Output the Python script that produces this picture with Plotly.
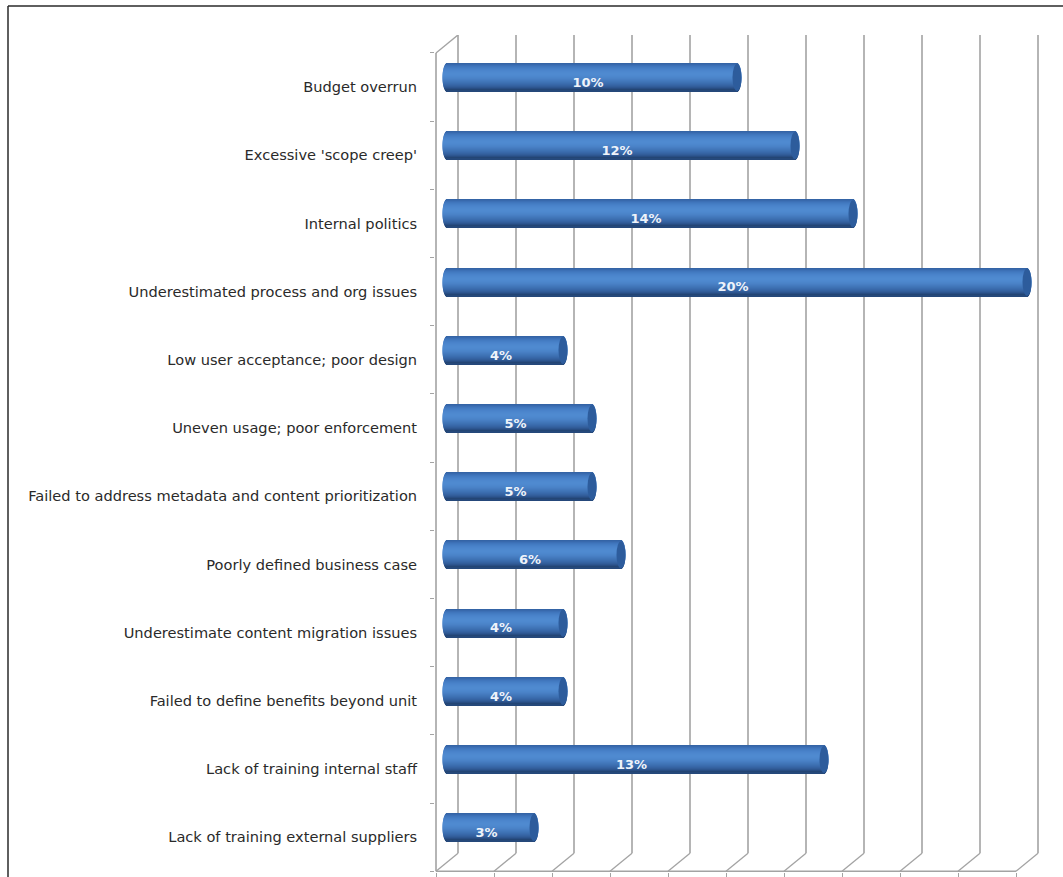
import math
import plotly.graph_objects as go

categories = [
    "Budget overrun",
    "Excessive 'scope creep'",
    "Internal politics",
    "Underestimated process and org issues",
    "Low user acceptance; poor design",
    "Uneven usage; poor enforcement",
    "Failed to address metadata and content prioritization",
    "Poorly defined business case",
    "Underestimate content migration issues",
    "Failed to define benefits beyond unit",
    "Lack of training internal staff",
    "Lack of training external suppliers",
]
values = [10, 12, 14, 20, 4, 5, 5, 6, 4, 4, 13, 3]

# Page geometry (pixels)
W, H = 1063, 877
PLOT_L, PLOT_T, PLOT_B = 435, 35, 872
PX_PER_PCT = 29.0
ZERO_PX = 447.0
ROW_PX = 68.2
FIRST_ROW_PX = 87.0

x_range = [(PLOT_L - ZERO_PX) / PX_PER_PCT, (W - ZERO_PX) / PX_PER_PCT]
y_range = [(PLOT_B - FIRST_ROW_PX) / ROW_PX, (PLOT_T - FIRST_ROW_PX) / ROW_PX]

# Pseudo-3D depth: bars sit halfway between front axis and back wall
DEPTH_X = 11.0 / PX_PER_PCT
BAR_SHIFT = 9.5 / ROW_PX
BAR_HALF = 14.0 / ROW_PX
CAP_A = 4.5 / PX_PER_PCT
positions = list(range(len(categories)))

# Vertical shading of the cylinder, top to bottom
shade = [
    "#3464a6", "#3869ad", "#3c70b6", "#4076bd", "#437bc2", "#467fc6", "#4982ca",
    "#4b85cc", "#4d87ce", "#4e89cf", "#4f8ad0", "#4f8ad0", "#4e89cf", "#4d87cd",
    "#4b85ca", "#4a82c7", "#477ec3", "#447abe", "#4176b9", "#3e72b4", "#3b6daf",
    "#3868a9", "#3563a2", "#325d9a", "#2d5690", "#284d83", "#234574", "#25487a",
]

fig = go.Figure()

n = len(shade)
band = 2 * BAR_HALF / n
for k, color in enumerate(shade):
    # Each band is trimmed by the end-cap ellipse so the ends come out round
    t = (k + 0.5) / n * 2 - 1
    ext = CAP_A * math.sqrt(max(0.0, 1 - t * t))
    fig.add_trace(go.Bar(
        orientation="h",
        y=[p - BAR_SHIFT for p in positions],
        x=[v + 2 * ext for v in values],
        base=[-ext] * len(values),
        width=band * 1.15,
        offset=-BAR_HALF + k * band,
        marker=dict(color=color, line=dict(width=0)),
        showlegend=False,
        hoverinfo="skip",
    ))

# Value labels, sitting slightly under the bar's centre line
fig.add_trace(go.Scatter(
    x=[v / 2 - 0.14 for v in values],
    y=[p - BAR_SHIFT + 6.0 / ROW_PX for p in positions],
    mode="text",
    text=[f"{v}%" for v in values],
    textfont=dict(family="DejaVu Sans", size=13, color="#eef3fa", weight="bold"),
    showlegend=False,
    hoverinfo="skip",
))

shapes = []
grid_color = "#a3a3a3"
top_row, bottom_row = -0.5, len(categories) - 0.5
wall_top = top_row - 18.0 / ROW_PX
wall_bottom = bottom_row - 18.0 / ROW_PX
floor_ticks = list(range(0, 21, 2))

for g in floor_ticks:
    front = g - DEPTH_X
    back = g + DEPTH_X
    # back-wall vertical
    shapes.append(dict(type="line", layer="below", xref="x", yref="y",
                       x0=back, x1=back, y0=wall_top, y1=wall_bottom,
                       line=dict(color=grid_color, width=1.6)))
    # floor diagonal
    shapes.append(dict(type="line", layer="below", xref="x", yref="y",
                       x0=front, x1=back, y0=bottom_row, y1=wall_bottom,
                       line=dict(color=grid_color, width=1.3)))

# Side wall: front axis, and the diagonal at its top
axis_x = -DEPTH_X
shapes.append(dict(type="line", layer="below", xref="x", yref="y",
                   x0=axis_x, x1=axis_x, y0=top_row, y1=bottom_row,
                   line=dict(color=grid_color, width=1.6)))
shapes.append(dict(type="line", layer="below", xref="x", yref="y",
                   x0=axis_x, x1=DEPTH_X, y0=top_row, y1=wall_top,
                   line=dict(color=grid_color, width=1.3)))
# Floor front edge
shapes.append(dict(type="line", layer="below", xref="x", yref="y",
                   x0=axis_x, x1=floor_ticks[-1] - DEPTH_X, y0=bottom_row, y1=bottom_row,
                   line=dict(color=grid_color, width=1.6)))

# Dark end face of each cylinder
for p, v in zip(positions, values):
    shapes.append(dict(type="circle", layer="above", xref="x", yref="y",
                       x0=v - CAP_A, x1=v + CAP_A,
                       y0=p - BAR_SHIFT - BAR_HALF * 0.97, y1=p - BAR_SHIFT + BAR_HALF * 0.97,
                       fillcolor="#2d5c9c", line=dict(width=0)))

# Frame round the page: top and left edges only
frame_x = (8 - PLOT_L) / (W - PLOT_L)
frame_top = (PLOT_B - 6) / (PLOT_B - PLOT_T)
frame_bottom = (PLOT_B - H) / (PLOT_B - PLOT_T)
shapes.append(dict(type="line", xref="paper", yref="paper",
                   x0=frame_x, x1=1, y0=frame_top, y1=frame_top,
                   line=dict(color="#2a2a2a", width=1.5)))
shapes.append(dict(type="line", xref="paper", yref="paper",
                   x0=frame_x, x1=frame_x, y0=frame_top, y1=frame_bottom,
                   line=dict(color="#2a2a2a", width=1.5)))

fig.update_layout(
    width=W,
    height=H,
    margin=dict(l=PLOT_L, r=0, t=PLOT_T, b=H - PLOT_B, pad=0),
    paper_bgcolor="white",
    plot_bgcolor="white",
    barmode="overlay",
    showlegend=False,
    shapes=shapes,
    xaxis=dict(
        range=x_range,
        showgrid=False,
        zeroline=False,
        showline=False,
        tickmode="array",
        tickvals=[g - DEPTH_X for g in floor_ticks],
        ticktext=[""] * len(floor_ticks),
        ticks="outside",
        ticklen=6,
        tickwidth=1.4,
        tickcolor=grid_color,
    ),
    yaxis=dict(
        range=y_range,
        showgrid=False,
        zeroline=False,
        showline=False,
        tickmode="array",
        tickvals=positions,
        ticktext=categories,
        ticks="outside",
        ticklen=14,
        tickcolor="rgba(0,0,0,0)",
        tickfont=dict(family="DejaVu Sans", size=14.6, color="#2a2a2a"),
        minor=dict(
            tickmode="array",
            tickvals=[p - 0.5 for p in positions] + [bottom_row],
            ticks="outside",
            ticklen=4,
            tickwidth=1.3,
            tickcolor=grid_color,
            showgrid=False,
        ),
    ),
)

fig.write_html("out.html")
